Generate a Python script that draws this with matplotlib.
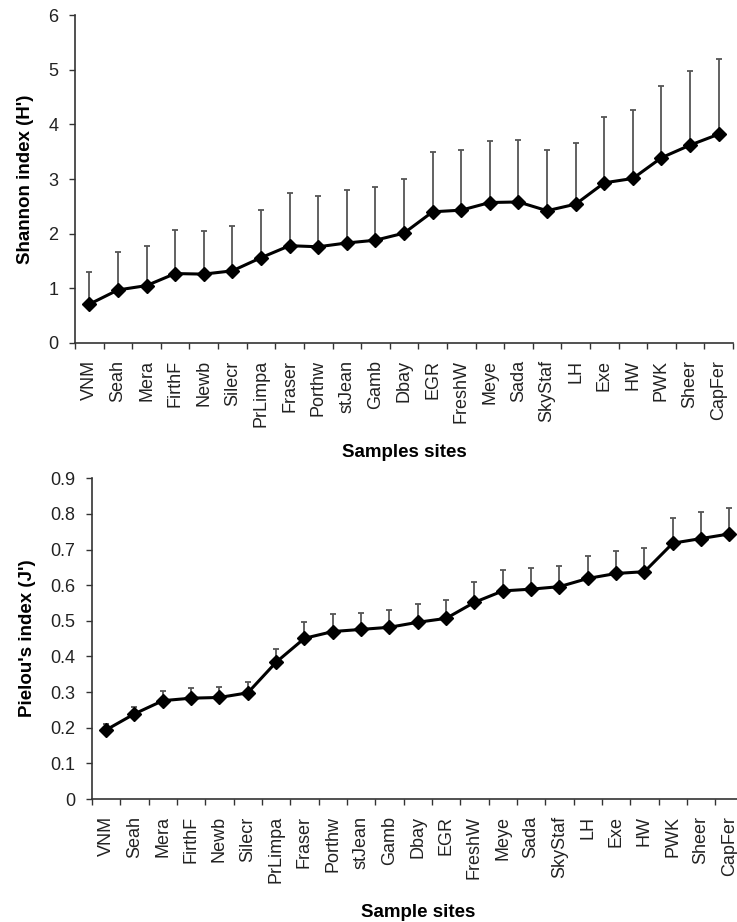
import numpy as np
import matplotlib.pyplot as plt

plt.rcParams['font.family'] = ['Liberation Sans', 'DejaVu Sans']

sites = ['VNM', 'Seah', 'Mera', 'FirthF', 'Newb', 'Silecr', 'PrLimpa', 'Fraser',
         'Porthw', 'stJean', 'Gamb', 'Dbay', 'EGR', 'FreshW', 'Meye', 'Sada',
         'SkyStaf', 'LH', 'Exe', 'HW', 'PWK', 'Sheer', 'CapFer']

# Shannon diversity (mean and upper bar end)
shannon = [0.71, 0.97, 1.05, 1.27, 1.26, 1.32, 1.56, 1.78, 1.76, 1.83, 1.88, 2.01,
           2.40, 2.43, 2.57, 2.58, 2.42, 2.54, 2.93, 3.01, 3.39, 3.62, 3.82]
shannon_top = [1.30, 1.67, 1.78, 2.07, 2.05, 2.14, 2.44, 2.74, 2.69, 2.80, 2.85, 3.00,
               3.49, 3.53, 3.70, 3.72, 3.53, 3.66, 4.13, 4.26, 4.70, 4.98, 5.19]

# Pielou evenness (mean and upper bar end)
pielou = [0.194, 0.239, 0.276, 0.283, 0.285, 0.298, 0.384, 0.451, 0.470, 0.476, 0.482,
          0.496, 0.507, 0.552, 0.584, 0.589, 0.596, 0.619, 0.633, 0.638, 0.718, 0.731, 0.744]
pielou_top = [0.210, 0.259, 0.304, 0.311, 0.313, 0.327, 0.421, 0.496, 0.519, 0.523, 0.530,
              0.547, 0.559, 0.608, 0.643, 0.647, 0.655, 0.682, 0.697, 0.704, 0.788, 0.805, 0.816]


def draw_panel(ax, values, tops, ylim, step, ticklabels, ylabel, xlabel, xlabelpad):
    x = np.arange(len(sites))
    vals = np.array(values)
    up = np.array(tops) - vals
    ax.errorbar(x, vals, yerr=[np.zeros_like(up), up], fmt='none',
                ecolor='#555555', elinewidth=1.3, capsize=2.5, capthick=1.3, zorder=2)
    ax.plot(x, vals, color='black', linewidth=2.2, marker='D', markersize=7, zorder=3)

    ax.set_xlim(-0.5, len(sites) - 0.5)
    ax.set_ylim(*ylim)
    ax.set_yticks(np.arange(ylim[0], ylim[1] + step / 2, step))
    ax.set_yticklabels(ticklabels)

    ax.set_xticks(x)
    ax.set_xticklabels(sites, rotation=90)
    ax.set_xticks(np.arange(-0.5, len(sites)), minor=True)
    ax.tick_params(axis='x', which='major', length=0, pad=12.5)
    ax.tick_params(axis='x', which='minor', length=4, width=1, color='#333333')
    ax.tick_params(axis='y', length=4, width=1, color='#333333', pad=8)
    ax.tick_params(labelsize=13, labelcolor='#222222')

    for side in ['top', 'right']:
        ax.spines[side].set_visible(False)
    for side in ['left', 'bottom']:
        ax.spines[side].set_color('#333333')
        ax.spines[side].set_linewidth(1.2)

    ax.set_ylabel(ylabel, fontsize=13.5, fontweight='bold', labelpad=10)
    ax.set_xlabel(xlabel, fontsize=13.5, fontweight='bold', labelpad=xlabelpad)


fig = plt.figure(figsize=(7.37, 9.22), dpi=100)
ax1 = fig.add_axes([0.1018, 0.628, 0.8928, 0.3557])
ax2 = fig.add_axes([0.1248, 0.1334, 0.8842, 0.3478])

draw_panel(ax1, shannon, shannon_top, (0, 6), 1,
           ['0', '1', '2', '3', '4', '5', '6'],
           "Shannon index (H')", 'Samples sites', 12)
draw_panel(ax2, pielou, pielou_top, (0, 0.9), 0.1,
           ['0', '0.1', '0.2', '0.3', '0.4', '0.5', '0.6', '0.7', '0.8', '0.9'],
           "Pielou's index (J')", 'Sample sites', 15)

fig.savefig('out.png', dpi=100)
